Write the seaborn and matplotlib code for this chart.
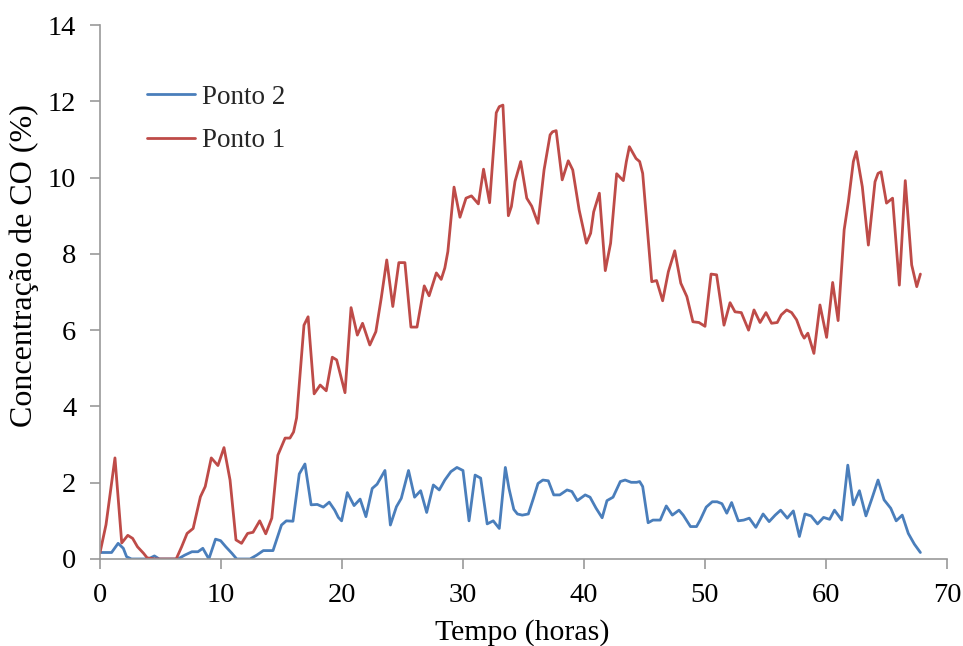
import matplotlib
matplotlib.use("Agg")
import matplotlib.pyplot as plt
import seaborn as sns
import pandas as pd

# Ponto 1 (hours, CO %)
p1_hours = [0, 0.5, 1.24, 1.8, 2.3, 2.7, 3.1, 3.6, 3.9, 4.5, 5.0, 5.5, 6.3, 6.75, 7.2, 7.7,
            8.3, 8.7, 9.2, 9.75, 10.25, 10.75, 11.24, 11.7, 12.2, 12.65, 13.2, 13.7, 14.2,
            14.7, 15.3, 15.7, 16.0, 16.25, 16.86, 17.2, 17.7, 18.2, 18.7, 19.2, 19.56, 20.25,
            20.75, 21.27, 21.7, 22.3, 22.8, 23.25, 23.7, 24.2, 24.7, 25.2, 25.7, 26.2, 26.8,
            27.2, 27.8, 28.2, 28.5, 28.75, 29.26, 29.75, 30.25, 30.7, 31.27, 31.7, 32.2,
            32.75, 33.0, 33.3, 33.75, 34.0, 34.3, 34.77, 35.27, 35.68, 36.2, 36.7, 37.2,
            37.4, 37.7, 38.2, 38.7, 39.07, 39.6, 40.2, 40.55, 40.8, 41.27, 41.76, 42.2, 42.7,
            43.25, 43.5, 43.75, 44.3, 44.6, 44.85, 45.6, 46.0, 46.5, 46.97, 47.5, 48.0, 48.5,
            49.0, 49.5, 50.0, 50.5, 50.96, 51.57, 52.07, 52.48, 53.0, 53.6, 54.05, 54.55,
            55.04, 55.5, 55.97, 56.3, 56.75, 57.16, 57.57, 58.0, 58.2, 58.5, 59.0, 59.5,
            60.05, 60.55, 61.0, 61.5, 61.85, 62.26, 62.5, 63.0, 63.5, 64.05, 64.3, 64.55,
            65.0, 65.5, 66.06, 66.55, 67.08, 67.5, 67.8]
p1_co = [0.16, 0.9, 2.65, 0.42, 0.62, 0.54, 0.32, 0.15, 0.03, 0.0, 0.0, 0.0, 0.0, 0.32, 0.67,
         0.8, 1.63, 1.9, 2.65, 2.45, 2.92, 2.07, 0.5, 0.41, 0.67, 0.7, 1.0, 0.66, 1.07, 2.72,
         3.17, 3.17, 3.33, 3.7, 6.13, 6.35, 4.33, 4.56, 4.41, 5.29, 5.22, 4.36, 6.59, 5.87,
         6.18, 5.61, 5.96, 6.85, 7.84, 6.62, 7.77, 7.77, 6.08, 6.08, 7.16, 6.9, 7.5, 7.33,
         7.63, 8.06, 9.75, 8.96, 9.46, 9.52, 9.31, 10.22, 9.34, 11.7, 11.86, 11.9, 9.0,
         9.24, 9.9, 10.42, 9.46, 9.25, 8.8, 10.2, 11.12, 11.2, 11.23, 9.94, 10.44, 10.2,
         9.15, 8.28, 8.54, 9.1, 9.59, 7.56, 8.28, 10.1, 9.92, 10.42, 10.81, 10.5, 10.42,
         10.11, 7.27, 7.3, 6.77, 7.53, 8.08, 7.23, 6.88, 6.22, 6.2, 6.1, 7.47, 7.45, 6.13,
         6.72, 6.48, 6.46, 6.0, 6.53, 6.2, 6.46, 6.18, 6.2, 6.4, 6.53, 6.46, 6.27, 5.9,
         5.79, 5.92, 5.39, 6.66, 5.81, 7.25, 6.25, 8.63, 9.37, 10.42, 10.68, 9.76, 8.23,
         9.89, 10.11, 10.15, 9.33, 9.46, 7.18, 9.92, 7.71, 7.14, 7.47]

# Ponto 2 (hours, CO %)
p2_hours = [0, 0.96, 1.5, 1.93, 2.2, 2.6, 4.0, 4.5, 4.9, 6.45, 7.0, 7.6, 8.1, 8.5, 9.0, 9.55,
            9.97, 10.4, 10.9, 11.3, 12.4, 12.95, 13.5, 14.3, 15.0, 15.4, 15.95, 16.47, 16.94,
            17.45, 17.96, 18.46, 18.95, 19.4, 19.7, 19.97, 20.44, 21.0, 21.5, 21.98, 22.5,
            22.9, 23.55, 24.0, 24.5, 24.9, 25.5, 26.0, 26.5, 27.0, 27.55, 28.04, 28.5, 29.0,
            29.5, 30.0, 30.5, 31.0, 31.46, 32.0, 32.5, 33.0, 33.5, 33.8, 34.2, 34.5, 34.9,
            35.4, 35.8, 36.2, 36.6, 37.05, 37.5, 38.0, 38.6, 39.0, 39.45, 40.1, 40.5, 41.0,
            41.5, 41.9, 42.4, 43.0, 43.4, 43.9, 44.35, 44.6, 44.85, 45.3, 45.7, 46.3, 46.8,
            47.3, 47.85, 48.2, 48.8, 49.3, 49.6, 50.1, 50.6, 51.0, 51.4, 51.8, 52.2, 52.75,
            53.2, 53.66, 54.2, 54.8, 55.3, 55.8, 56.25, 56.8, 57.3, 57.8, 58.26, 58.76, 59.3,
            59.8, 60.3, 60.7, 61.3, 61.8, 62.26, 62.76, 63.3, 63.8, 64.3, 64.8, 65.35, 65.8,
            66.3, 66.8, 67.3, 67.8]
p2_co = [0.17, 0.17, 0.41, 0.28, 0.06, 0.0, 0.0, 0.08, 0.0, 0.0, 0.1, 0.19, 0.19, 0.28, 0.0,
         0.52, 0.48, 0.32, 0.15, 0.0, 0.0, 0.1, 0.22, 0.22, 0.89, 1.0, 0.99, 2.23, 2.49,
         1.42, 1.43, 1.36, 1.49, 1.28, 1.09, 1.0, 1.74, 1.4, 1.57, 1.11, 1.85, 1.96, 2.32,
         0.89, 1.37, 1.59, 2.32, 1.62, 1.79, 1.22, 1.94, 1.81, 2.07, 2.29, 2.4, 2.32, 1.0,
         2.2, 2.12, 0.92, 1.0, 0.8, 2.4, 1.85, 1.3, 1.18, 1.15, 1.18, 1.57, 1.98, 2.07,
         2.05, 1.68, 1.68, 1.81, 1.77, 1.53, 1.68, 1.62, 1.33, 1.08, 1.53, 1.62, 2.03,
         2.07, 2.01, 2.01, 2.03, 1.9, 0.95, 1.02, 1.02, 1.39, 1.15, 1.28, 1.15, 0.85, 0.85,
         1.02, 1.36, 1.5, 1.5, 1.45, 1.2, 1.48, 1.0, 1.02, 1.07, 0.83, 1.18, 0.98, 1.15,
         1.28, 1.07, 1.26, 0.59, 1.18, 1.13, 0.92, 1.09, 1.04, 1.28, 1.02, 2.46, 1.42,
         1.79, 1.13, 1.59, 2.07, 1.55, 1.33, 1.0, 1.15, 0.67, 0.39, 0.17]

series_names = ["Ponto 2", "Ponto 1"]
series_colors = {"Ponto 2": "#4A7EBB", "Ponto 1": "#BE4B48"}

df = pd.concat([
    pd.DataFrame({"Tempo": p2_hours, "CO": p2_co, "Ponto": "Ponto 2"}),
    pd.DataFrame({"Tempo": p1_hours, "CO": p1_co, "Ponto": "Ponto 1"}),
], ignore_index=True)

sns.set_theme(style="ticks")
plt.rcParams["font.family"] = ["Liberation Serif", "DejaVu Serif"]

fig = plt.figure(figsize=(9.63, 6.46), dpi=100)
ax = fig.add_axes([0.1038, 0.1347, 0.8796, 0.8266])

sns.lineplot(data=df, x="Tempo", y="CO", hue="Ponto", hue_order=series_names,
             palette=series_colors, sort=False, estimator=None, linewidth=2.0, ax=ax)

ax.set_xlim(0, 70)
ax.set_ylim(0, 14)
ax.set_xticks(range(0, 71, 10))
ax.set_yticks(range(0, 15, 2))

axis_gray = "#999999"
for side in ("top", "right"):
    ax.spines[side].set_visible(False)
for side in ("left", "bottom"):
    ax.spines[side].set_color(axis_gray)
    ax.spines[side].set_linewidth(1.2)
ax.tick_params(axis="both", direction="out", length=7, width=1.2, color=axis_gray,
               labelsize=20.5, labelcolor="black")
ax.tick_params(axis="x", pad=10.5)
ax.tick_params(axis="y", pad=10)

ax.set_xlabel("Tempo (horas)", fontsize=21.5, color="black")
ax.set_ylabel("Concentração de CO (%)", fontsize=23, color="black")
ax.xaxis.set_label_coords(0.498, -0.112)
ax.yaxis.set_label_coords(-0.072, 0.549)

leg = ax.legend(loc="upper left", bbox_to_anchor=(0.056, 0.888), frameon=False,
                fontsize=19.5, handlelength=1.75, handletextpad=0.25, labelspacing=0.68,
                borderaxespad=0, borderpad=0)
for line in leg.get_lines():
    line.set_linewidth(2.0)

fig.savefig("out.png", dpi=100)
